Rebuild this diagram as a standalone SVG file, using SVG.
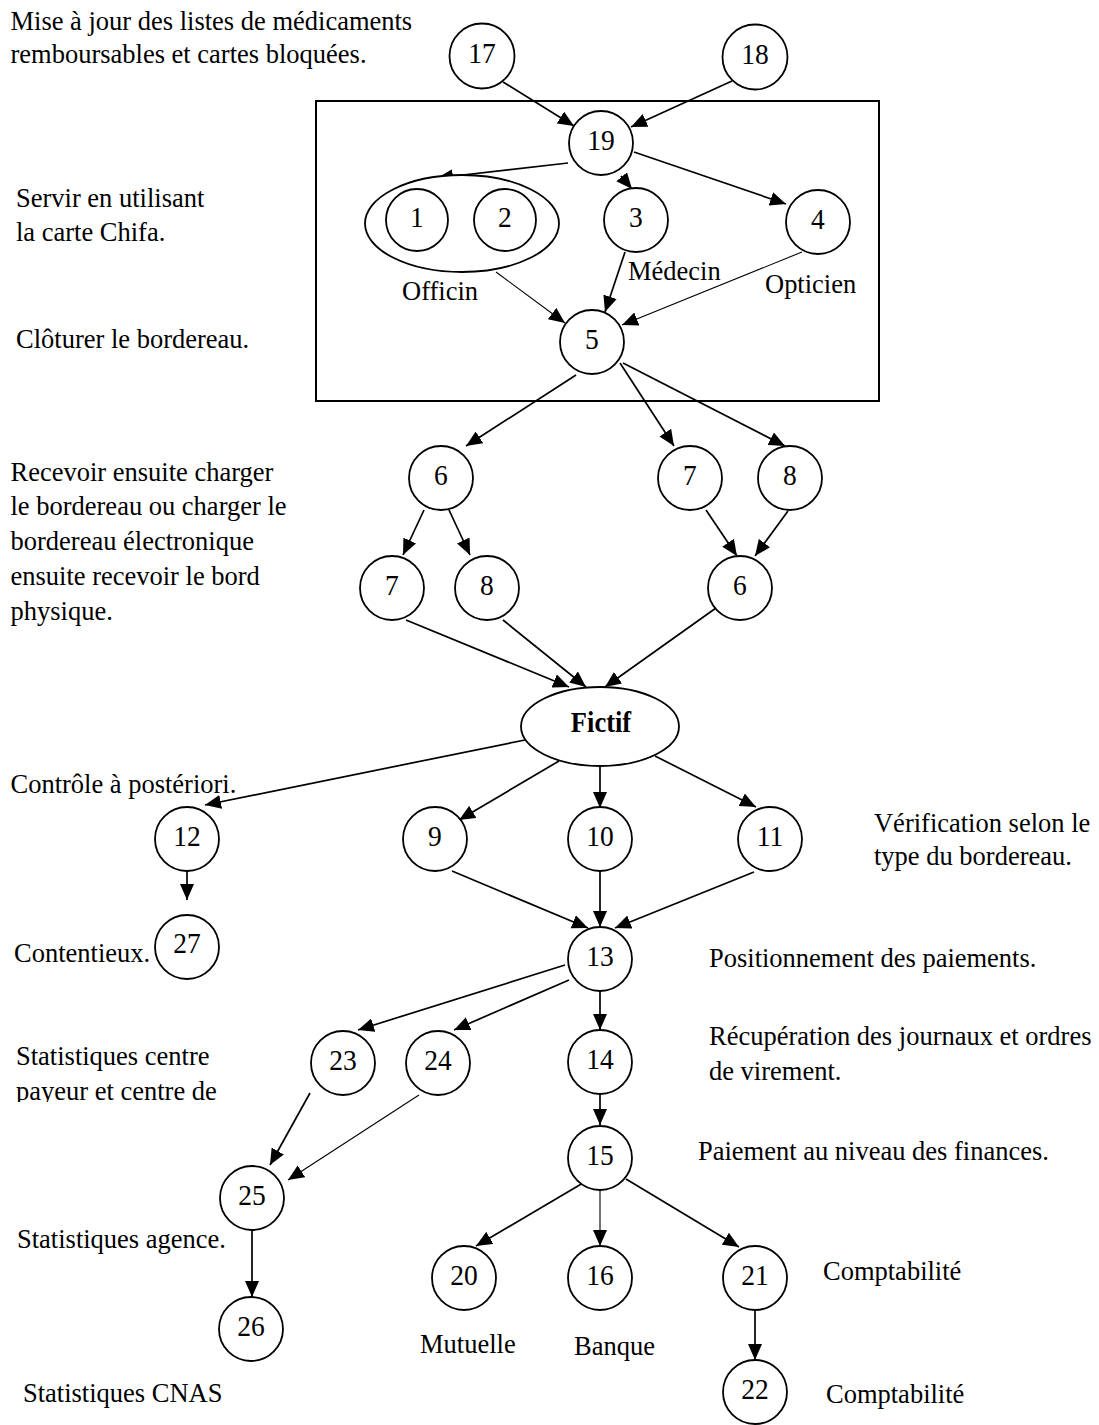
<svg xmlns="http://www.w3.org/2000/svg" width="1099" height="1425" viewBox="0 0 1099 1425">
<style>
.n{fill:#fff;stroke:#000;stroke-width:1.8}
.c{stroke:#000;stroke-width:1.7;fill:none;marker-end:url(#ah)}
.t{stroke-width:1.1}
text{font-family:"Liberation Serif","Times New Roman",serif;fill:#000}
.l{font-size:26.5px}
.d{font-size:27.5px;text-anchor:middle}
.b{font-size:26.5px;font-weight:bold;text-anchor:middle}
</style>
<defs>
<marker id="ah" markerUnits="userSpaceOnUse" markerWidth="17" markerHeight="14" refX="16" refY="7" orient="auto">
<path d="M0,0 L16,7 L0,14 z" fill="#000"/>
</marker>
<clipPath id="cut"><rect x="0" y="1070" width="400" height="32"/></clipPath>
</defs>
<rect fill="#fff" x="0" y="0" width="1099" height="1425"/>
<rect id="zone" x="316" y="101" width="563" height="300" fill="none" stroke="#000" stroke-width="2"/>
<g id="connectors">
<line class="c" x1="503" y1="82" x2="574" y2="126"/>
<line class="c" x1="732" y1="81" x2="631" y2="127"/>
<line class="c" x1="568" y1="163" x2="437" y2="178"/>
<line class="c" x1="621" y1="176" x2="632" y2="189"/>
<line class="c" x1="634" y1="152" x2="786" y2="204"/>
<line class="c t" x1="496" y1="272" x2="565" y2="323"/>
<line class="c" x1="625" y1="252" x2="605" y2="312"/>
<line class="c t" x1="802" y1="252" x2="622" y2="325"/>
<line class="c" x1="576" y1="375" x2="466" y2="446"/>
<line class="c" x1="620" y1="363" x2="674" y2="446"/>
<line class="c" x1="623" y1="363" x2="785" y2="446"/>
<line class="c" x1="424" y1="510" x2="403" y2="555"/>
<line class="c" x1="449" y1="510" x2="470" y2="555"/>
<line class="c" x1="706" y1="510" x2="737" y2="556"/>
<line class="c" x1="788" y1="511" x2="755" y2="556"/>
<line class="c" x1="406" y1="620" x2="569" y2="687"/>
<line class="c" x1="503" y1="620" x2="586" y2="687"/>
<line class="c" x1="716" y1="608" x2="605" y2="687"/>
<line class="c" x1="525" y1="740" x2="205" y2="805"/>
<line class="c" x1="559" y1="761" x2="459" y2="820"/>
<line class="c" x1="600" y1="766" x2="600" y2="808"/>
<line class="c" x1="655" y1="756" x2="756" y2="807"/>
<line class="c" x1="187" y1="871" x2="187" y2="900"/>
<line class="c" x1="452" y1="871" x2="588" y2="928"/>
<line class="c" x1="600" y1="871" x2="600" y2="927"/>
<line class="c" x1="754" y1="872" x2="615" y2="928"/>
<line class="c" x1="565" y1="965" x2="358" y2="1030"/>
<line class="c" x1="569" y1="980" x2="454" y2="1030"/>
<line class="c" x1="600" y1="991" x2="600" y2="1030"/>
<line class="c" x1="310" y1="1093" x2="270" y2="1165"/>
<line class="c t" x1="419" y1="1095" x2="288" y2="1180"/>
<line class="c" x1="600" y1="1094" x2="600" y2="1125"/>
<line class="c" x1="252" y1="1230" x2="252" y2="1297"/>
<line class="c" x1="583" y1="1183" x2="476" y2="1246"/>
<line class="c t" x1="600" y1="1190" x2="600" y2="1246"/>
<line class="c" x1="626" y1="1179" x2="739" y2="1247"/>
<line class="c" x1="755" y1="1310" x2="755" y2="1360"/>
</g>
<g id="n17"><circle class="n" cx="482" cy="56" r="32.5"/><text class="d" x="482" y="63" transform="matrix(1 0 0 1.08 0 -5.04)">17</text></g>
<g id="n18"><circle class="n" cx="755" cy="57" r="32.5"/><text class="d" x="755" y="64" transform="matrix(1 0 0 1.08 0 -5.12)">18</text></g>
<g id="n19"><circle class="n" cx="601" cy="143" r="32"/><text class="d" x="601" y="150" transform="matrix(1 0 0 1.08 0 -12)">19</text></g>
<g id="officin"><ellipse class="n" cx="462" cy="223.5" rx="97" ry="48.5"/>
<circle class="n" cx="417" cy="220" r="31"/><text class="d" x="417" y="227" transform="matrix(1 0 0 1.08 0 -18.16)">1</text>
<circle class="n" cx="505" cy="220" r="31"/><text class="d" x="505" y="227" transform="matrix(1 0 0 1.08 0 -18.16)">2</text></g>
<g id="n3"><circle class="n" cx="636" cy="220" r="32"/><text class="d" x="636" y="227" transform="matrix(1 0 0 1.08 0 -18.16)">3</text></g>
<g id="n4"><circle class="n" cx="818" cy="222" r="32"/><text class="d" x="818" y="229" transform="matrix(1 0 0 1.08 0 -18.32)">4</text></g>
<g id="n5"><circle class="n" cx="592" cy="342" r="32"/><text class="d" x="592" y="349" transform="matrix(1 0 0 1.08 0 -27.92)">5</text></g>
<g id="n6a"><circle class="n" cx="441" cy="478" r="32"/><text class="d" x="441" y="485" transform="matrix(1 0 0 1.08 0 -38.8)">6</text></g>
<g id="n7b"><circle class="n" cx="690" cy="478" r="32"/><text class="d" x="690" y="485" transform="matrix(1 0 0 1.08 0 -38.8)">7</text></g>
<g id="n8b"><circle class="n" cx="790" cy="478" r="32"/><text class="d" x="790" y="485" transform="matrix(1 0 0 1.08 0 -38.8)">8</text></g>
<g id="n7a"><circle class="n" cx="392" cy="588" r="32"/><text class="d" x="392" y="595" transform="matrix(1 0 0 1.08 0 -47.6)">7</text></g>
<g id="n8a"><circle class="n" cx="487" cy="588" r="32"/><text class="d" x="487" y="595" transform="matrix(1 0 0 1.08 0 -47.6)">8</text></g>
<g id="n6b"><circle class="n" cx="740" cy="588" r="32"/><text class="d" x="740" y="595" transform="matrix(1 0 0 1.08 0 -47.6)">6</text></g>
<g id="fictif"><ellipse class="n" cx="600" cy="726.5" rx="79" ry="39.5"/><text class="b" x="601" y="732" transform="matrix(1 0 0 1.12 0 -87.84)">Fictif</text></g>
<g id="n12"><circle class="n" cx="187" cy="839" r="32"/><text class="d" x="187" y="846" transform="matrix(1 0 0 1.08 0 -67.68)">12</text></g>
<g id="n9"><circle class="n" cx="435" cy="839" r="32"/><text class="d" x="435" y="846" transform="matrix(1 0 0 1.08 0 -67.68)">9</text></g>
<g id="n10"><circle class="n" cx="600" cy="839" r="32"/><text class="d" x="600" y="846" transform="matrix(1 0 0 1.08 0 -67.68)">10</text></g>
<g id="n11"><circle class="n" cx="770" cy="839" r="32"/><text class="d" x="770" y="846" transform="matrix(1 0 0 1.08 0 -67.68)">11</text></g>
<g id="n27"><circle class="n" cx="187" cy="947" r="32"/><text class="d" x="187" y="953" transform="matrix(1 0 0 1.08 0 -76.24)">27</text></g>
<g id="n13"><circle class="n" cx="600" cy="959" r="32"/><text class="d" x="600" y="966" transform="matrix(1 0 0 1.08 0 -77.28)">13</text></g>
<g id="n23"><circle class="n" cx="343" cy="1063" r="32"/><text class="d" x="343" y="1070" transform="matrix(1 0 0 1.08 0 -85.6)">23</text></g>
<g id="n24"><circle class="n" cx="438" cy="1063" r="32"/><text class="d" x="438" y="1070" transform="matrix(1 0 0 1.08 0 -85.6)">24</text></g>
<g id="n14"><circle class="n" cx="600" cy="1062" r="32"/><text class="d" x="600" y="1069" transform="matrix(1 0 0 1.08 0 -85.52)">14</text></g>
<g id="n15"><circle class="n" cx="600" cy="1158" r="32"/><text class="d" x="600" y="1165" transform="matrix(1 0 0 1.08 0 -93.2)">15</text></g>
<g id="n25"><circle class="n" cx="252" cy="1198" r="32"/><text class="d" x="252" y="1205" transform="matrix(1 0 0 1.08 0 -96.4)">25</text></g>
<g id="n20"><circle class="n" cx="464" cy="1278" r="32"/><text class="d" x="464" y="1285" transform="matrix(1 0 0 1.08 0 -102.8)">20</text></g>
<g id="n16"><circle class="n" cx="600" cy="1278" r="32"/><text class="d" x="600" y="1285" transform="matrix(1 0 0 1.08 0 -102.8)">16</text></g>
<g id="n21"><circle class="n" cx="755" cy="1278" r="32"/><text class="d" x="755" y="1285" transform="matrix(1 0 0 1.08 0 -102.8)">21</text></g>
<g id="n26"><circle class="n" cx="251" cy="1329" r="32"/><text class="d" x="251" y="1336" transform="matrix(1 0 0 1.08 0 -106.88)">26</text></g>
<g id="n22"><circle class="n" cx="755" cy="1392" r="32"/><text class="d" x="755" y="1399" transform="matrix(1 0 0 1.08 0 -111.92)">22</text></g>
<g id="labels">
<text class="l" x="10.5" y="30" transform="matrix(1 0 0 1.06 0 -1.8)">Mise à jour des listes de médicaments</text>
<text class="l" x="10.5" y="63" transform="matrix(1 0 0 1.06 0 -3.78)">remboursables et cartes bloquées.</text>
<text class="l" x="16" y="207" transform="matrix(1 0 0 1.06 0 -12.42)">Servir en utilisant</text>
<text class="l" x="16" y="241" transform="matrix(1 0 0 1.06 0 -14.46)">la carte Chifa.</text>
<text class="l" x="402" y="300" transform="matrix(1 0 0 1.06 0 -18)">Officin</text>
<text class="l" x="628" y="280" transform="matrix(1 0 0 1.06 0 -16.8)">Médecin</text>
<text class="l" x="765" y="293" transform="matrix(1 0 0 1.06 0 -17.58)">Opticien</text>
<text class="l" x="16" y="348" transform="matrix(1 0 0 1.06 0 -20.88)">Clôturer le bordereau.</text>
<text class="l" x="10.5" y="481" transform="matrix(1 0 0 1.06 0 -28.86)">Recevoir ensuite charger</text>
<text class="l" x="10.5" y="515" transform="matrix(1 0 0 1.06 0 -30.9)">le bordereau ou charger le</text>
<text class="l" x="10.5" y="550" transform="matrix(1 0 0 1.06 0 -33)">bordereau électronique</text>
<text class="l" x="10.5" y="585" transform="matrix(1 0 0 1.06 0 -35.1)">ensuite recevoir le bord</text>
<text class="l" x="10.5" y="620" transform="matrix(1 0 0 1.06 0 -37.2)">physique.</text>
<text class="l" x="10.5" y="793" transform="matrix(1 0 0 1.06 0 -47.58)">Contrôle à postériori.</text>
<text class="l" x="874" y="832" transform="matrix(1 0 0 1.06 0 -49.92)">Vérification selon le</text>
<text class="l" x="874" y="865" transform="matrix(1 0 0 1.06 0 -51.9)">type du bordereau.</text>
<text class="l" x="14" y="962" transform="matrix(1 0 0 1.06 0 -57.72)">Contentieux.</text>
<text class="l" x="709" y="967" transform="matrix(1 0 0 1.06 0 -58.02)">Positionnement des paiements.</text>
<text class="l" x="16" y="1065" transform="matrix(1 0 0 1.06 0 -63.9)">Statistiques centre</text>
<text class="l" x="16" y="1100" transform="matrix(1 0 0 1.06 0 -66)" clip-path="url(#cut)">payeur et centre de</text>
<text class="l" x="709" y="1045" transform="matrix(1 0 0 1.06 0 -62.7)">Récupération des journaux et ordres</text>
<text class="l" x="709" y="1080" transform="matrix(1 0 0 1.06 0 -64.8)">de virement.</text>
<text class="l" x="698" y="1160" transform="matrix(1 0 0 1.06 0 -69.6)">Paiement au niveau des finances.</text>
<text class="l" x="17" y="1248" transform="matrix(1 0 0 1.06 0 -74.88)">Statistiques agence.</text>
<text class="l" x="823" y="1280" transform="matrix(1 0 0 1.06 0 -76.8)">Comptabilité</text>
<text class="l" x="420" y="1353" transform="matrix(1 0 0 1.06 0 -81.18)">Mutuelle</text>
<text class="l" x="574" y="1355" transform="matrix(1 0 0 1.06 0 -81.3)">Banque</text>
<text class="l" x="23" y="1402" transform="matrix(1 0 0 1.06 0 -84.12)">Statistiques CNAS</text>
<text class="l" x="826" y="1403" transform="matrix(1 0 0 1.06 0 -84.18)">Comptabilité</text>
</g>
</svg>
